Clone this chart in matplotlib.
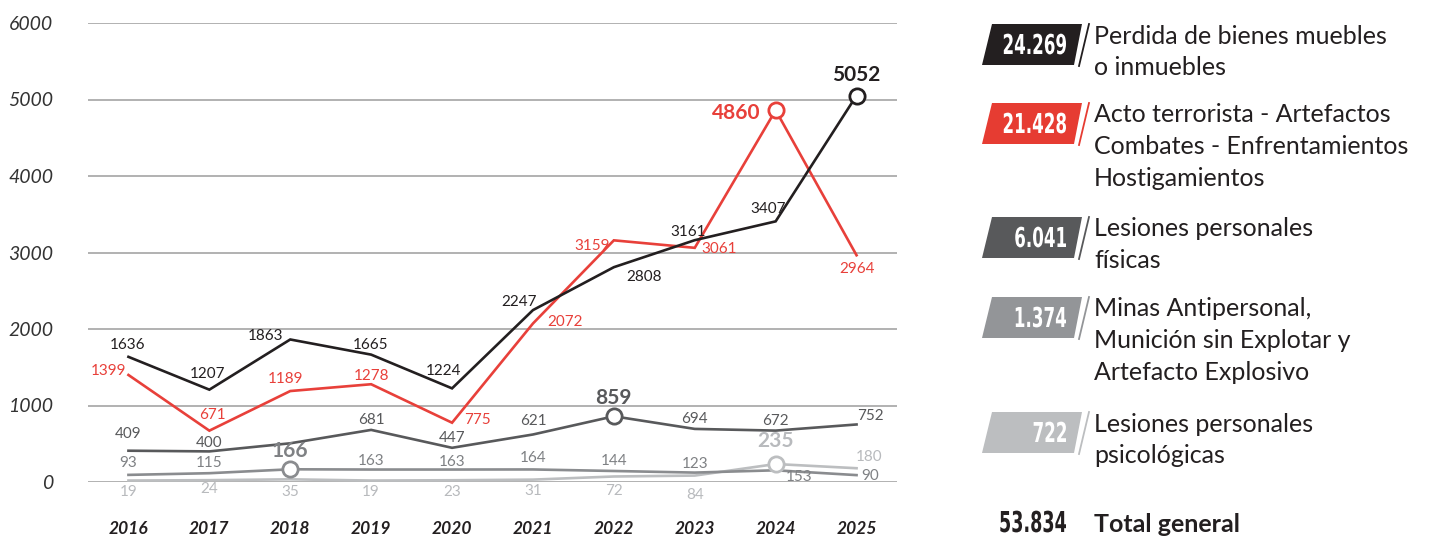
import matplotlib
matplotlib.use('Agg')
import matplotlib.pyplot as plt
from matplotlib.patches import Polygon, PathPatch
from matplotlib.textpath import TextPath
from matplotlib.font_manager import FontProperties
from matplotlib.transforms import Affine2D

plt.rcParams['font.family'] = ['Lato', 'DejaVu Sans']

# datos por año
years = [2016, 2017, 2018, 2019, 2020, 2021, 2022, 2023, 2024, 2025]
perdida = [1636, 1207, 1863, 1665, 1224, 2247, 2808, 3161, 3407, 5052]
acto = [1399, 671, 1189, 1278, 775, 2072, 3159, 3061, 4860, 2964]
fisicas = [409, 400, 506, 681, 447, 621, 859, 694, 672, 752]
minas = [93, 115, 166, 163, 163, 164, 144, 123, 153, 90]
psico = [19, 24, 35, 19, 23, 31, 72, 84, 235, 180]

legend_totals = ['24.269', '21.428', '6.041', '1.374', '722']
legend_labels = [
    ['Perdida de bienes muebles', 'o inmuebles'],
    ['Acto terrorista - Artefactos', 'Combates - Enfrentamientos', 'Hostigamientos'],
    ['Lesiones personales', 'físicas'],
    ['Minas Antipersonal,', 'Munición sin Explotar y', 'Artefacto Explosivo'],
    ['Lesiones personales', 'psicológicas'],
]
total_general = '53.834'

# estilo de cada serie: color de línea, color de etiqueta, índice destacado, zorder
series = [
    (psico, '#bcbec0', '#b8babd', 8, 1),
    (minas, '#8a8c8f', '#7f8184', 2, 2),
    (fisicas, '#58595b', '#58595b', 6, 3),
    (acto, '#e8403a', '#e8403a', 8, 4),
    (perdida, '#231f20', '#231f20', 9, 5),
]
box_colors = ['#231f20', '#e63c32', '#58595b', '#939598', '#bcbec0']

# desplazamiento de las etiquetas en píxeles (None = sin etiqueta)
offsets = {
    id(perdida): [(-1, 12), (-2, 16), (-25, 3), (-1, 10), (-9, 17), (-14, 8), (30, -10), (-7, 8), (-8, 12), (0, 21)],
    id(acto): [(-20, 4), (3, 16), (-5, 12), (0, 8), (25, 3), (32, 1), (-22, -6), (24, -1), (-39, -3), (0, -14)],
    id(fisicas): [(0, 17), (0, 8), None, (0, 10), (0, 10), (0, 13), (0, 18), (0, 10), (0, 10), (14, 8)],
    id(minas): [(0, 12), (0, 10), (0, 18), (0, 9), (0, 8), (0, 11), (0, 10), (0, 9), (23, -7), (14, -1)],
    id(psico): [(0, -11), (0, -9), (0, -13), (0, -11), (0, -12), (0, -11), (0, -15), (0, -19), (0, 23), (13, 11)],
}

W, H = 1429, 538
fig = plt.figure(figsize=(W / 100, H / 100), dpi=100)
ax = fig.add_axes([88 / W, 1 - 482 / H, (897 - 88) / W, (482 - 23) / H])

for values, color, lcolor, hi, z in series:
    ax.plot(years, values, color=color, lw=1.9, zorder=z, solid_joinstyle='miter')
    ax.plot(years[hi], values[hi], 'o', ms=11, mfc='white', mec=color, mew=2, zorder=z + 10)
    for i, v in enumerate(values):
        off = offsets[id(values)][i]
        if off is None:
            continue
        bold = i == hi
        ax.annotate(str(v), (years[i], v), xytext=(off[0] * 0.72, off[1] * 0.72),
                    textcoords='offset points', ha='center', va='center',
                    color=lcolor, fontsize=15 if bold else 11,
                    fontweight='bold' if bold else 'normal', zorder=20, annotation_clip=False)

ax.set_xlim(2015.5, 2025.5)
ax.set_ylim(0, 6000)
ax.set_yticks(range(0, 6001, 1000))
ax.set_xticks(years)
ax.yaxis.grid(True, color='#9d9d9d', lw=1.1)
ax.set_axisbelow(True)
for s in ax.spines.values():
    s.set_visible(False)
ax.tick_params(length=0)
ax.tick_params(axis='y', pad=25, labelsize=14, labelcolor='#333333')
ax.tick_params(axis='x', pad=28, labelsize=12.5, labelcolor='#231f20')
for t in ax.get_yticklabels():
    t.set_fontstyle('italic')
for t in ax.get_xticklabels():
    t.set_fontstyle('italic')
    t.set_fontweight('bold')

# leyenda en coordenadas de píxel
lg = fig.add_axes([0, 0, 1, 1])
lg.set_xlim(0, W)
lg.set_ylim(H, 0)
lg.axis('off')


def narrow_number(x_right, y_base, s, color, height):
    # cifra en negrita comprimida horizontalmente
    tp = TextPath((0, 0), s, prop=FontProperties(family='DejaVu Sans', weight='bold'), size=1)
    sy = height / 0.729
    sx = sy * 0.61
    w = tp.get_extents().x1 * sx
    tr = Affine2D().scale(sx, -sy).translate(x_right - w, y_base)
    lg.add_patch(PathPatch(tr.transform_path(tp), color=color, lw=0))


tops = [24, 103, 217, 297, 412]
for top, num, lines, c in zip(tops, legend_totals, legend_labels, box_colors):
    lg.add_patch(Polygon([(992, top), (1082, top), (1074, top + 41), (982, top + 41)],
                         closed=True, color=c, lw=0))
    lg.plot([1089, 1079], [top, top + 42], color=c, lw=1.3)
    narrow_number(1066, top + 30, num, 'white', 20)
    for k, line in enumerate(lines):
        lg.text(1094, top + 19.5 + 31.5 * k, line, ha='left', va='baseline',
                fontsize=18, color='#231f20')

narrow_number(1066, 532, total_general, '#231f20', 21)
lg.text(1094, 532, 'Total general', ha='left', va='baseline', color='#231f20',
        fontsize=18, fontweight='bold')

fig.savefig('out.png', dpi=100)
